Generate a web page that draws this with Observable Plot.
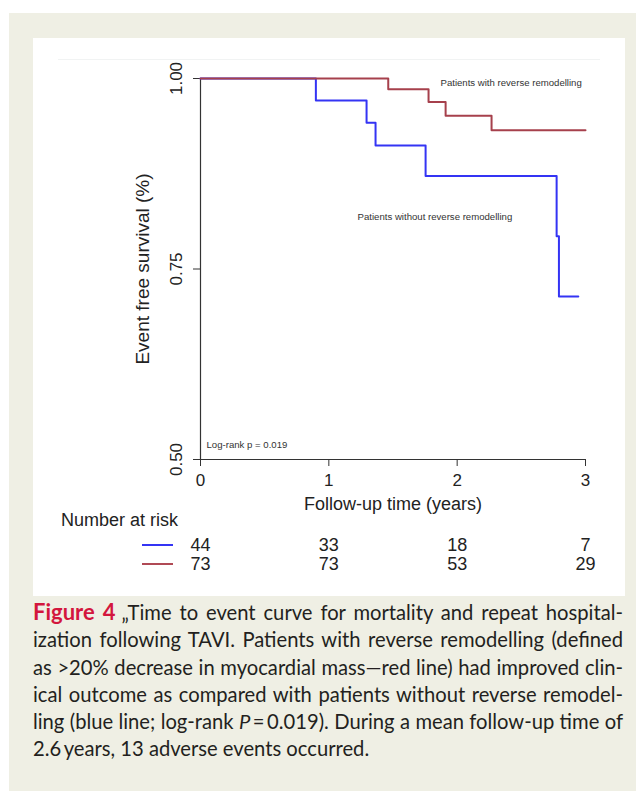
<!DOCTYPE html>
<html>
<head>
<meta charset="utf-8">
<script src="https://cdn.jsdelivr.net/npm/d3@7"></script>
<script src="https://cdn.jsdelivr.net/npm/@observablehq/plot@0.6"></script>
<style>
  body { margin: 0; background: #fff; }
  #page { position: relative; width: 636px; height: 791px; overflow: hidden; }
  #beige { position: absolute; left: 9px; top: 13px; right: 0; bottom: 0; background: #efefe4; }
  #white { position: absolute; left: 33px; top: 38px; width: 592px; height: 558px; background: #fff; }
  #faint { position: absolute; left: 58px; top: 59px; width: 542px; height: 0; border-top: 1px solid #f1f3f3; }
  #chart { position: absolute; left: 33px; top: 38px; }
  #risk { position: absolute; left: 33px; top: 535px; }
  #nar { position: absolute; left: 61px; top: 510px; font: 18px "Liberation Sans", Arial, sans-serif; color: #222; }
  .leg { position: absolute; left: 142px; width: 31px; height: 2px; }
  #caption { position: absolute; left: 33px; top: 598px; width: 590px; font: 20.2px Lato, "Open Sans", sans-serif; color: #231f20; line-height: 27.3px; }
  #caption div { text-align: justify; text-align-last: justify; white-space: nowrap; }
  #caption div.last { text-align-last: left; }
  #caption .fig { color: #d3163d; font-weight: bold; font-size: 22px; margin-right: 6px; }
</style>
</head>
<body>
<div id="page">
  <div id="beige"></div>
  <div id="white"></div>
  <div id="faint"></div>
  <div id="chart"></div>
  <div id="nar">Number at risk</div>
  <div class="leg" style="top:544px;background:#3434f4"></div>
  <div class="leg" style="top:563px;background:#b04a55"></div>
  <div id="risk"></div>
  <div id="caption">
    <div><span class="fig">Figure 4</span>„Time to event curve for mortality and repeat hospital-</div>
    <div>ization following TAVI. Patients with reverse remodelling (defined</div>
    <div>as &gt;20% decrease in myocardial mass—red line) had improved clin-</div>
    <div>ical outcome as compared with patients without reverse remodel-</div>
    <div>ling (blue line; log-rank <i>P</i>&#8201;=&#8201;0.019). During a mean follow-up time of</div>
    <div class="last">2.6&#8201;years, 13 adverse events occurred.</div>
  </div>
</div>
<script>
// ---- Data ----
const groups = ["without", "with"];
const groupLabels = ["Patients without reverse remodelling", "Patients with reverse remodelling"];
const groupColors = ["#3434f4", "#a6404c"];

// Kaplan–Meier step points (years, survival)
const withoutTime = [0, 0.899, 1.294, 1.364, 1.754, 2.775, 2.793, 2.944];
const withoutSurv = [1.0, 0.971, 0.942, 0.912, 0.872, 0.793, 0.714, 0.714];
const withTime = [0, 1.463, 1.777, 1.910, 2.268, 3.0];
const withSurv = [1.0, 0.986, 0.969, 0.951, 0.932, 0.932];

// Number at risk
const riskTimes = [0, 1, 2, 3];
const riskWithout = [44, 33, 18, 7];
const riskWith = [73, 73, 53, 29];

// Axes
const xTicks = [0, 1, 2, 3];
const yTicks = [0.5, 0.75, 1.0];
const xLabel = "Follow-up time (years)";
const yLabel = "Event free survival (%)";

// Annotations (data units)
const noteText = ["Patients with reverse remodelling", "Patients without reverse remodelling", "Log-rank p = 0.019"];
const noteX = [1.87, 1.224, 0.047];
const noteY = [0.994, 0.818, 0.519];

// ---- Build tables ----
const curves = [
  ...withoutTime.map((t, i) => ({group: groups[0], t, s: withoutSurv[i]})),
  ...withTime.map((t, i) => ({group: groups[1], t, s: withSurv[i]}))
];
const notes = noteText.map((text, i) => ({text, x: noteX[i], y: noteY[i]}));
const risk = [
  ...riskTimes.map((t, i) => ({group: groups[0], t, n: riskWithout[i]})),
  ...riskTimes.map((t, i) => ({group: groups[1], t, n: riskWith[i]}))
];
const xDomain = [d3.min(xTicks), d3.max(xTicks)];
const yDomain = [d3.min(yTicks), d3.max(yTicks)];

const font = "'Liberation Sans', Arial, sans-serif";

const chart = Plot.plot({
  width: 592,
  height: 477,
  marginLeft: 167,
  marginRight: 40,
  marginTop: 40,
  marginBottom: 56,
  style: {fontFamily: font, color: "#222", background: "transparent", overflow: "visible"},
  x: {domain: xDomain},
  y: {domain: yDomain},
  color: {domain: groups, range: groupColors},
  marks: [
    Plot.ruleX([xDomain[0]], {y1: yDomain[0], y2: yDomain[1], stroke: "#333", strokeWidth: 1.2}),
    Plot.ruleY([yDomain[0]], {x1: xDomain[0], x2: xDomain[1], stroke: "#333", strokeWidth: 1.2}),
    Plot.axisX({ticks: xTicks, tickSize: 7, tickPadding: 7, fontSize: 17, tickFormat: d3.format("d"),
      label: null, stroke: "#333"}),
    Plot.axisX({ticks: [], label: xLabel, labelAnchor: "center", labelArrow: "none", labelOffset: 50, fontSize: 18}),
    Plot.axisY({ticks: yTicks, tickSize: 7, tickPadding: 12, tickRotate: -90, fontSize: 17, tickFormat: d3.format(".2f"),
      label: null, stroke: "#333"}),
    Plot.axisY({ticks: [], label: yLabel, labelAnchor: "center", labelArrow: "none", labelOffset: 65, fontSize: 19}),
    Plot.line(curves, {x: "t", y: "s", z: "group", stroke: "group", curve: "step-after", strokeWidth: 2}),
    Plot.text(notes, {x: "x", y: "y", text: "text", textAnchor: "start", fontSize: 9.6, fill: "#333"})
  ]
});
document.getElementById("chart").appendChild(chart);

const riskPlot = Plot.plot({
  width: 592,
  height: 38,
  marginLeft: 167,
  marginRight: 40,
  marginTop: 0,
  marginBottom: 0,
  style: {fontFamily: font, color: "#222", background: "transparent", overflow: "visible"},
  x: {domain: xDomain, axis: null},
  y: {type: "point", domain: groups, axis: null},
  marks: [
    Plot.text(risk, {x: "t", y: "group", text: "n", fontSize: 18, fill: "#222"})
  ]
});
document.getElementById("risk").appendChild(riskPlot);
</script>
</body>
</html>
